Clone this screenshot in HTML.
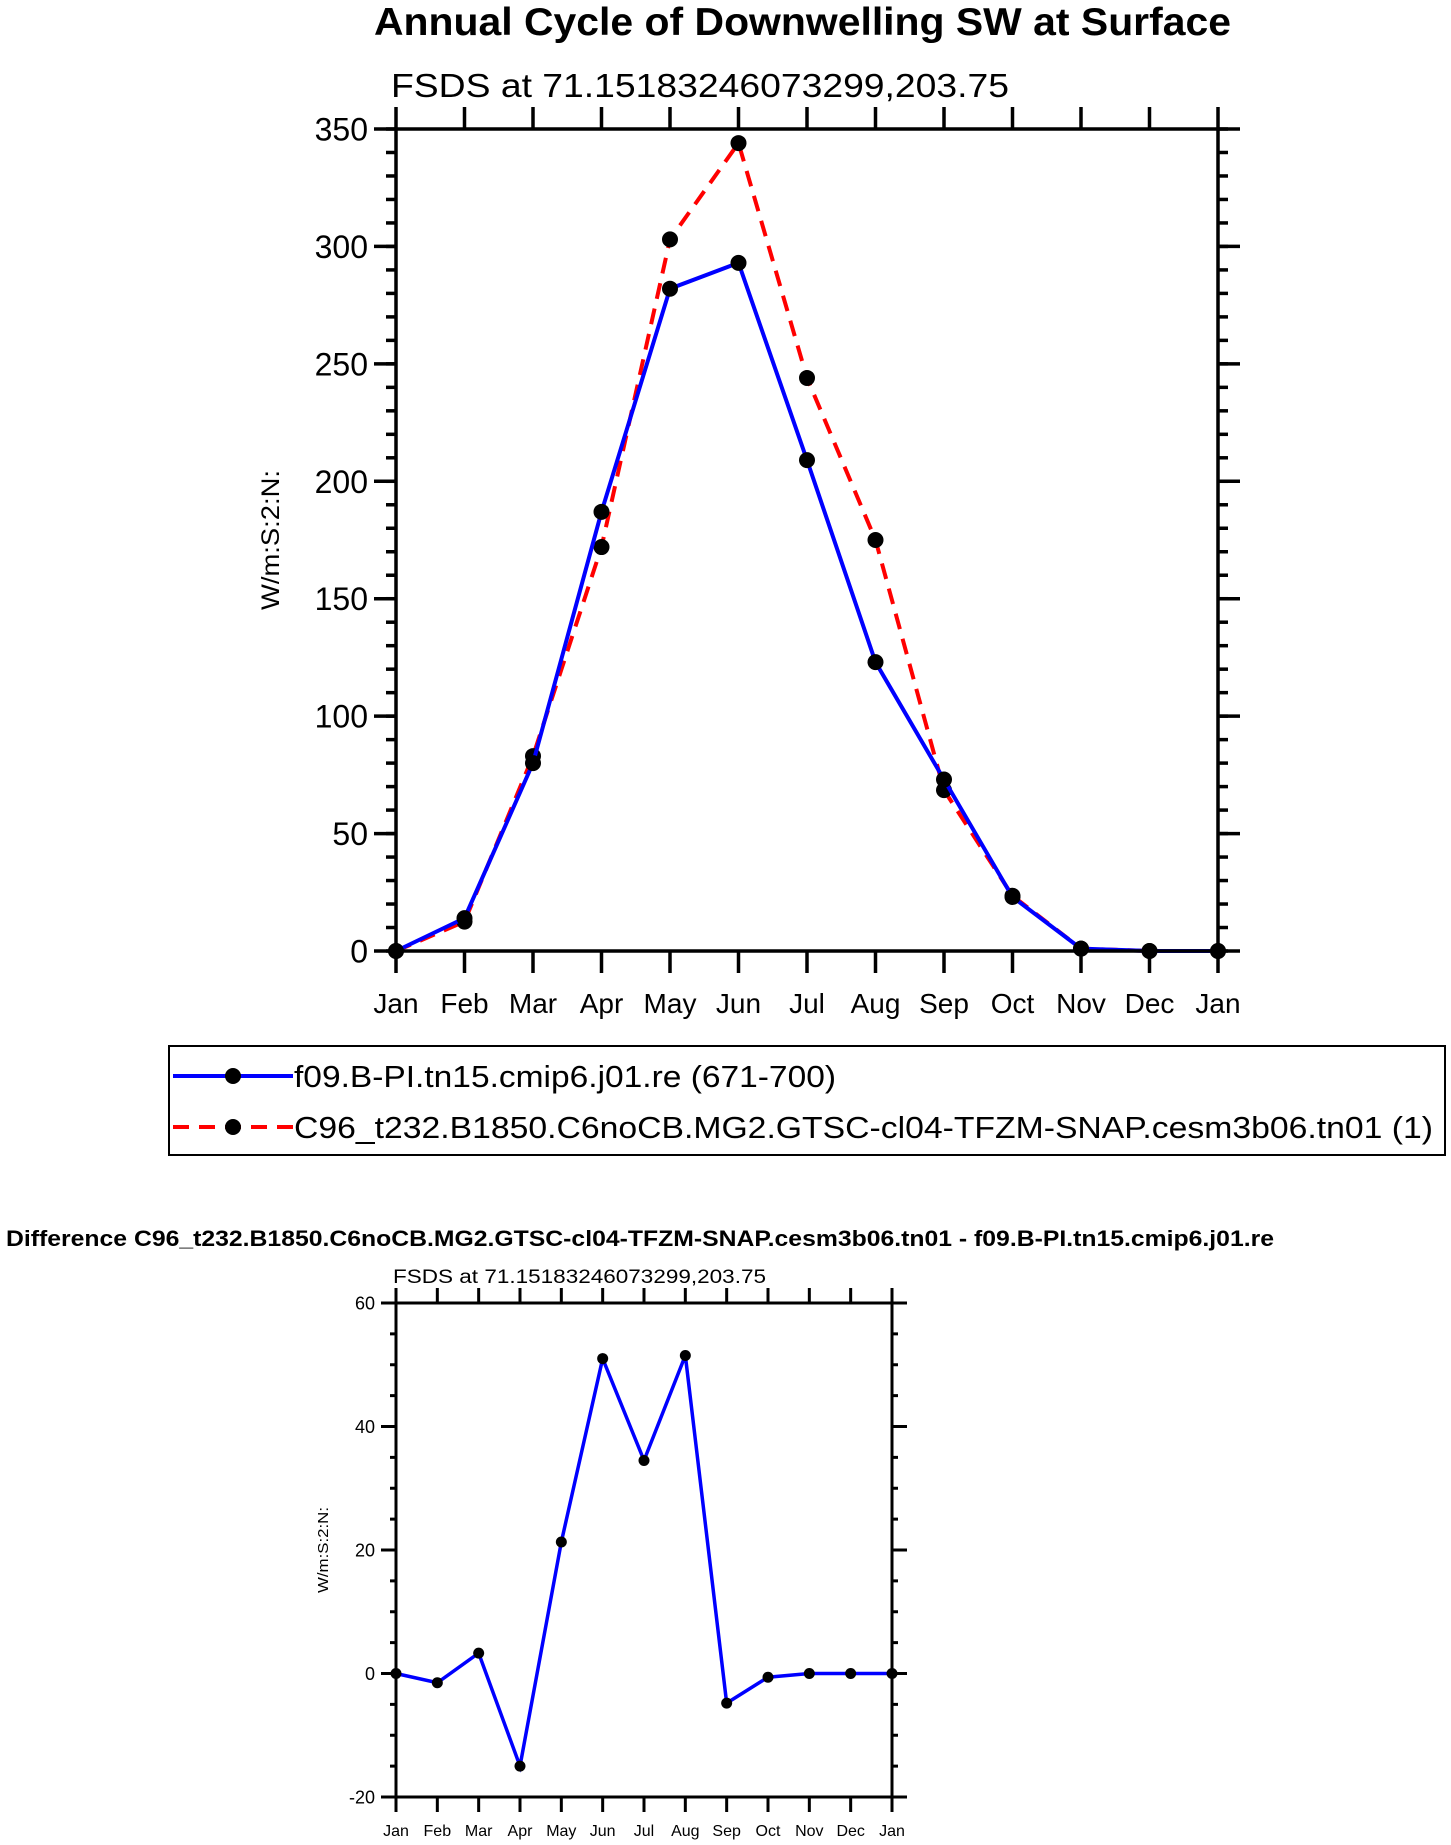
<!DOCTYPE html>
<html><head><meta charset="utf-8"><style>
html,body{margin:0;padding:0;background:#fff;}
svg{display:block;font-family:"Liberation Sans",Arial,sans-serif;}
</style></head><body>
<svg id="chart" width="1451" height="1845" viewBox="0 0 1451 1845" xmlns="http://www.w3.org/2000/svg">
<text x="374" y="35" textLength="857" lengthAdjust="spacingAndGlyphs" font-size="39" font-weight="bold">Annual Cycle of Downwelling SW at Surface</text>
<text x="391" y="97" textLength="618" lengthAdjust="spacingAndGlyphs" font-size="33">FSDS at 71.15183246073299,203.75</text>
<text transform="translate(279,540) rotate(-90)" text-anchor="middle" font-size="25" textLength="140" lengthAdjust="spacingAndGlyphs">W/m:S:2:N:</text>
<g id="top"></g>
<rect x="169" y="1046" width="1276" height="109" fill="none" stroke="#000" stroke-width="2"/>
<g>
<line x1="173" y1="1076" x2="293" y2="1076" stroke="#0000ff" stroke-width="4"/>
<circle cx="233" cy="1076" r="8" fill="#000"/>
<text x="294" y="1087" font-size="31" textLength="542" lengthAdjust="spacingAndGlyphs">f09.B-PI.tn15.cmip6.j01.re (671-700)</text>
</g>
<g>
<line x1="173" y1="1127" x2="293" y2="1127" stroke="#ff0000" stroke-width="4" stroke-dasharray="16,10"/>
<circle cx="233" cy="1127" r="8" fill="#000"/>
<text x="294" y="1138" font-size="31" textLength="1139" lengthAdjust="spacingAndGlyphs">C96_t232.B1850.C6noCB.MG2.GTSC-cl04-TFZM-SNAP.cesm3b06.tn01 (1)</text>
</g>
<text x="6" y="1246" font-size="22" font-weight="bold" textLength="1268" lengthAdjust="spacingAndGlyphs">Difference C96_t232.B1850.C6noCB.MG2.GTSC-cl04-TFZM-SNAP.cesm3b06.tn01 - f09.B-PI.tn15.cmip6.j01.re</text>
<text x="393" y="1283" font-size="19" textLength="373" lengthAdjust="spacingAndGlyphs">FSDS at 71.15183246073299,203.75</text>
<text transform="translate(328,1550) rotate(-90)" text-anchor="middle" font-size="15" textLength="86" lengthAdjust="spacingAndGlyphs">W/m:S:2:N:</text>
<g id="bot"></g>
</svg>
<script>
const months = ["Jan","Feb","Mar","Apr","May","Jun","Jul","Aug","Sep","Oct","Nov","Dec","Jan"];
const blueVals = [0,14,80,187,282,293,209,123,73,23,1,0,0];
const redVals = [0,12.5,83,172,303,344,244,175,68.5,23.5,1,0,0];
const diffVals = [0,-1.5,3.3,-15,21.3,51,34.5,51.5,-4.8,-0.6,0,0,0];
const topTicks = [0,50,100,150,200,250,300,350];
const diffTicks = [-20,0,20,40,60];
const NS="http://www.w3.org/2000/svg";
function mk(p,tag,a){const e=document.createElementNS(NS,tag);for(const k in a)e.setAttribute(k,a[k]);p.appendChild(e);return e;}
function plot(g,o){
  const X=i=>o.l+(o.r-o.l)*i/(months.length-1);
  const Y=v=>o.b-(o.b-o.t)*(v-o.ymin)/(o.ymax-o.ymin);
  o.series.forEach(s=>{
    const pts=s.vals.map((v,i)=>X(i)+","+Y(v)).join(" ");
    const pl=mk(g,"polyline",{points:pts,fill:"none",stroke:s.color,"stroke-width":s.w});
    if(s.dash)pl.setAttribute("stroke-dasharray",s.dash);
    
    
    s.vals.forEach((v,i)=>{
      const c=mk(g,"circle",{cx:X(i),cy:Y(v),r:o.dot,fill:"#000"});
      
      
    });
  });
  const sw=o.sw;
  const fr=mk(g,"rect",{x:o.l,y:o.t,width:o.r-o.l,height:o.b-o.t,fill:"none",stroke:"#000","stroke-width":sw});
  
  
  months.forEach((m,i)=>{
    const x=X(i);
    mk(g,"line",{x1:x,y1:o.t,x2:x,y2:o.t-o.maj,stroke:"#000","stroke-width":sw});
    mk(g,"line",{x1:x,y1:o.b,x2:x,y2:o.b+o.maj,stroke:"#000","stroke-width":sw});
    const t=mk(g,"text",{x:x,y:o.xly,"text-anchor":"middle","font-size":o.xfs});
    t.textContent=m;
    
    
  });
  for(let v=o.ymin;v<=o.ymax+1e-9;v+=o.minor){
    const y=Y(v);
    mk(g,"line",{x1:o.l,y1:y,x2:o.l-o.min,y2:y,stroke:"#000","stroke-width":sw});
    mk(g,"line",{x1:o.r,y1:y,x2:o.r+o.min,y2:y,stroke:"#000","stroke-width":sw});
  }
  o.ticks.forEach(v=>{
    const y=Y(v);
    mk(g,"line",{x1:o.l,y1:y,x2:o.l-o.maj,y2:y,stroke:"#000","stroke-width":sw});
    mk(g,"line",{x1:o.r,y1:y,x2:o.r+o.maj,y2:y,stroke:"#000","stroke-width":sw});
    const t=mk(g,"text",{x:o.l-o.maj-6,y:y+o.yfs*0.36,"text-anchor":"end","font-size":o.yfs});
    t.textContent=v;
    
    
  });
}
plot(document.getElementById("top"),{l:396,r:1218,t:129,b:951,ymin:0,ymax:350,ticks:topTicks,minor:10,maj:22,min:10,sw:3.5,dot:8,xly:1013,xfs:28,yfs:32,
  series:[{name:"red-series",vals:redVals,color:"#ff0000",w:4,dash:"16,10"},{name:"blue-series",vals:blueVals,color:"#0000ff",w:4}]});
plot(document.getElementById("bot"),{l:396,r:892,t:1303,b:1797,ymin:-20,ymax:60,ticks:diffTicks,minor:5,maj:15,min:6,sw:3,dot:5.5,xly:1836,xfs:16,yfs:18,
  series:[{name:"diff-series",vals:diffVals,color:"#0000ff",w:3.5}]});
</script>
</body></html>
